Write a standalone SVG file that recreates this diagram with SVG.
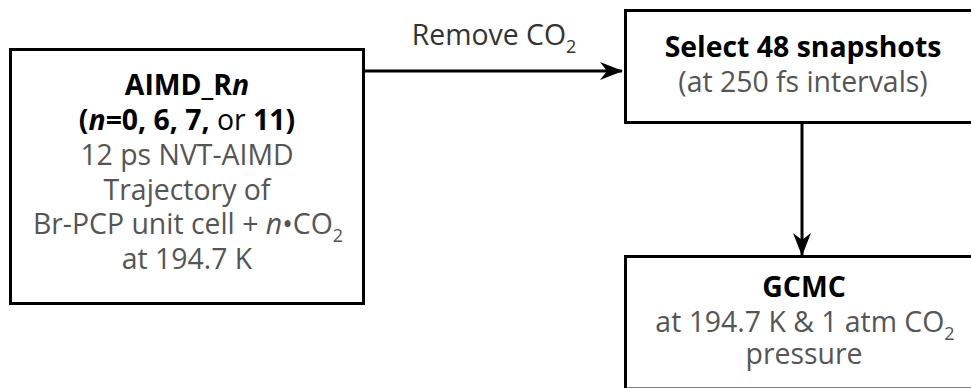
<svg xmlns="http://www.w3.org/2000/svg" width="971" height="388" viewBox="0 0 971 388">
<defs>
<style>
.box{fill:#fff;stroke:#000;stroke-width:3}
.t{font-family:"Open Sans","Noto Sans",sans-serif;font-size:28.4px;text-anchor:middle}
.b{font-weight:bold;fill:#000}
.g{fill:#555}
.s{font-size:18px}
.edge{stroke:#000;stroke-width:3;fill:none}
</style>
<marker id="arr" viewBox="0 0 24 20" refX="23" refY="10" markerWidth="24" markerHeight="20" markerUnits="userSpaceOnUse" orient="auto">
<path d="M24 10 L1 1 L8 10 L1 19 Z" fill="#000"/>
</marker>
</defs>
<rect width="971" height="388" fill="#fff"/>
<g id="connectors">
<line class="edge" x1="364" y1="71" x2="622" y2="71" marker-end="url(#arr)"/>
<text class="t" x="494" y="45" style="fill:#333">Remove CO<tspan class="s" dy="8">2</tspan></text>
<line class="edge" x1="802" y1="123" x2="802" y2="255" marker-end="url(#arr)"/>
</g>
<g id="aimd">
<rect class="box" x="10.5" y="49.5" width="353" height="254"/>
<text class="t b" x="187" y="95">AIMD_R<tspan font-style="italic">n</tspan></text>
<text class="t b" x="187" y="130">(<tspan font-style="italic">n</tspan>=0, 6, 7, <tspan font-weight="normal">or</tspan> 11)</text>
<text class="t g" x="187" y="165">12 ps NVT-AIMD</text>
<text class="t g" x="187" y="200">Trajectory of</text>
<text class="t g" x="188" y="234">Br-PCP unit cell + <tspan font-style="italic">n</tspan>•CO<tspan class="s" dy="8">2</tspan></text>
<text class="t g" x="187" y="269">at 194.7 K</text>
</g>
<g id="select">
<rect class="box" x="625.5" y="10.5" width="360" height="112"/>
<text class="t b" x="803" y="57">Select 48 snapshots</text>
<text class="t g" x="803" y="92">(at 250 fs intervals)</text>
</g>
<g id="gcmc">
<rect class="box" x="625.5" y="256.5" width="360" height="132.5"/>
<text class="t b" x="804" y="297">GCMC</text>
<text class="t g" x="805" y="332">at 194.7 K &amp; 1 atm CO<tspan class="s" dy="8">2</tspan></text>
<text class="t g" x="804" y="364">pressure</text>
</g>
</svg>
